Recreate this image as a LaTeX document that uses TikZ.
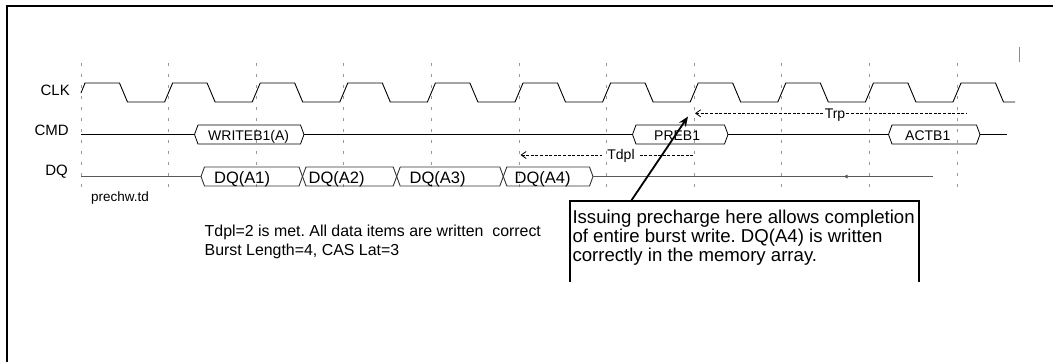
\documentclass[tikz,border=0pt]{standalone}
\usepackage{fontspec}
\setmainfont{Liberation Sans}
\usetikzlibrary{arrows.meta,positioning}
\frenchspacing

\tikzset{
  signame/.style={anchor=base east, inner sep=0pt, font=\fontsize{15}{18}\selectfont},
  cmdtext/.style={anchor=base west, inner sep=0pt, font=\fontsize{14}{16}\selectfont},
  dqtext/.style={anchor=base west, inner sep=0pt, font=\fontsize{16.5}{18}\selectfont},
  notetext/.style={anchor=base west, inner sep=0pt, font=\fontsize{15.9}{18}\selectfont},
  calltext/.style={anchor=base west, inner sep=0pt, font=\fontsize{18.6}{19}\selectfont},
  gridtick/.style={black!40, line width=0.8pt, dash pattern=on 3pt off 8pt},
  wave/.style={line width=0.9pt},
  dqwave/.style={black!65, line width=1.3pt},
  dqbox/.style={black!80, line width=0.9pt},
  dimline/.style={line width=0.7pt, dash pattern=on 3pt off 1.6pt},
  barb/.style={{Straight Barb[length=5pt,width=7pt,line width=0.8pt]}-},
}

\begin{document}
\begin{tikzpicture}[x=1pt,y=-1pt,line join=miter]
\useasboundingbox (0,0) rectangle (1053,362);
% frame
\draw[line width=2pt] (7,362) -- (7,5.5) -- (1053,5.5);
\draw[black!45, line width=1pt] (1019,47) -- (1019,62);
% clock grid
\foreach \k in {0,...,10}
  \draw[gridtick] ({81+87.6*\k},63) -- ({81+87.6*\k},190);

% signal names
\node[signame] (clk) at (70,95) {CLK};
\node[signame] (cmd) at (69,135) {CMD};
\node[signame] (dq) at (68,175) {DQ};

% clock
\draw[wave] (81,93) -- (85,83)
  \foreach \k in {0,...,9} { -- ++(34.5,0) -- ++(8,19) -- ++(37.1,0) -- ++(8,-19) }
  -- ++(34.5,0) -- ++(8,19) -- ++(11.5,0);

% command bus
\foreach \a/\b/\tx/\t/\n in {194.5/304/208/WRITEB1(A)/wr, 632.5/728/654/PREB1/pre, 888.5/980/905/ACTB1/act}{
  \draw[wave, line width=0.8pt] (\a,134.5) -- (\a+3.5,125) -- (\b-3.5,125) -- (\b,134.5) -- (\b-3.5,144) -- (\a+3.5,144) -- cycle;
  \coordinate (\n-w) at (\a,134.5);
  \coordinate (\n-e) at (\b,134.5);
  \node[cmdtext] (\n) at (\tx,140) {\t};
}
\coordinate (cmdstart) at (81,134.5);
\coordinate (cmdend) at (1006.5,134.5);
\draw[line width=0.8pt] (cmdstart) -- (wr-w) (wr-e) -- (pre-w) (pre-e) -- (act-w) (act-e) -- (cmdend);

% data bus
\foreach \a/\b/\tx/\t [count=\i] in {201/302.5/214/DQ(A1), 302.5/396.7/308.5/DQ(A2), 396.7/503.3/409.5/DQ(A3), 503.3/593/514.5/DQ(A4)}{
  \draw[dqbox] (\a,176.5) -- (\a+3.5,167) -- (\b-3.5,167) -- (\b,176.5) -- (\b-3.5,186) -- (\a+3.5,186) -- cycle;
  \coordinate (dq\i-w) at (\a,176.5);
  \coordinate (dq\i-e) at (\b,176.5);
  \node[dqtext] (dq\i) at (\tx,183) {\t};
}
\coordinate (dqstart) at (81,176.5);
\coordinate (dqend) at (933,176.5);
\draw[dqwave] (dqstart) -- (dq1-w) (dq4-e) -- (dqend);
\fill[black!65] (843.5,176.5) -- (847.5,174.5) -- (847.5,178.5) -- cycle;

% timing marks
\coordinate (tdplL) at (520.5,155);
\coordinate (tdplR) at (695,155);
\node[cmdtext, anchor=base, inner xsep=5pt] (tdpl) at (621,159.8) {Tdpl};
\draw[dimline, barb] (tdplL) -- (tdplL -| tdpl.west);
\draw[dimline] (tdpl.east |- tdplR) -- (tdplR);

\coordinate (trpL) at (695,113.3);
\coordinate (trpR) at (966.5,113.3);
\node[cmdtext, anchor=base, inner xsep=1pt] (trp) at (835,118) {Trp};
\draw[dimline, barb] (trpL) -- (trpL -| trp.west);
\draw[dimline] (trp.east |- trpR) -- (trpR);

% notes
\node[notetext, font=\fontsize{13.5}{15}\selectfont] (file) at (91,201) {prechw.td};
\foreach \yy/\txt [count=\i] in {236.5/{Tdpl=2 is met. All data items are written~ correct}, 255/{Burst Length=4, CAS Lat=3}}
  \node[notetext] (note\i) at (204.5,\yy) {\txt};

% callout
\draw[line width=2pt] (570,282) -- (570,201) -- (919,201) -- (919,282);
\foreach \yy/\txt [count=\i] in {223/Issuing precharge here allows completion, 242/of entire burst write. DQ(A4) is written, 261/correctly in the memory array.}
  \node[calltext] (call\i) at (572.3,\yy) {\txt};
\coordinate (callfoot) at (631,201);
\coordinate (calltip) at (688,116.5);
\draw[line width=1.8pt, -{Stealth[length=10pt,width=8pt]}] (callfoot) -- (calltip);
\end{tikzpicture}
\end{document}
